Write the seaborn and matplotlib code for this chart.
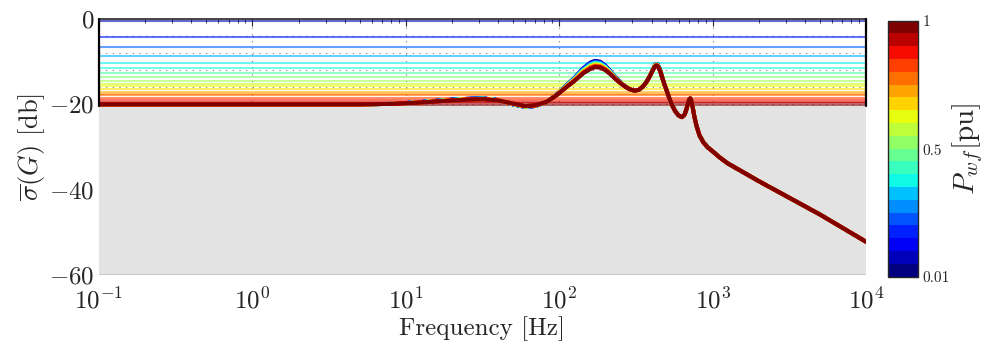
import numpy as np
import matplotlib
matplotlib.use("Agg")
import matplotlib.pyplot as plt
import seaborn as sns
import pandas as pd
from matplotlib.colors import ListedColormap, Normalize
from matplotlib.cm import ScalarMappable

# ---------------------------------------------------
# Daten
# ---------------------------------------------------
p_levels = [0.01, 0.06, 0.11, 0.17, 0.22, 0.27, 0.32, 0.37, 0.43, 0.48,
            0.53, 0.58, 0.64, 0.69, 0.74, 0.79, 0.84, 0.90, 0.95, 1.00]

# horizontale Linien oben (dB) und ihre Farbposition in "jet"
level_db = [-0.4, -4.1, -6.6, -8.6, -10.2, -11.4, -12.7, -13.5, -14.5, -15.2,
            -15.8, -16.4, -17.0, -17.5, -17.9, -18.6, -19.0, -19.4, -19.7, -20.1]
level_cpos = [0.05, 0.15, 0.22, 0.30, 0.36, 0.38, 0.44, 0.50, 0.55, 0.60,
              0.64, 0.67, 0.73, 0.76, 0.80, 0.84, 0.88, 0.92, 0.96, 1.00]

freq_hz = [0.1, 0.5, 1, 2, 5, 8, 12, 18, 25, 32, 40, 50, 60, 70, 83, 95,
           106, 124, 144, 160, 171, 185, 200, 215, 230, 250, 270, 290, 310,
           330, 350, 370, 390, 405, 420, 430, 440, 455, 470, 485, 500, 520,
           545, 570, 600, 630, 655, 675, 690, 705, 715, 725, 740, 760, 785,
           820, 870, 930, 1000, 1100, 1250, 2000, 3200, 5000, 10000]

# Kurve fuer P = 1 (rot)
sigma_red_db = [-20.0, -20.0, -20.0, -20.0, -20.0, -19.9, -19.6, -19.2, -18.9,
                -18.8, -19.1, -19.8, -20.4, -20.2, -19.4, -18.0, -16.6, -14.7,
                -12.7, -11.7, -11.3, -11.4, -12.0, -12.9, -13.9, -15.0, -15.9,
                -16.5, -16.8, -16.6, -15.9, -14.8, -13.4, -12.2, -11.2, -10.9,
                -11.1, -12.2, -13.8, -15.3, -16.6, -18.4, -20.2, -21.6, -22.6,
                -23.0, -22.5, -21.2, -19.8, -18.8, -18.6, -19.0, -20.5, -22.8,
                -25.0, -27.2, -28.9, -30.1, -31.0, -32.3, -33.8, -38.0, -42.0,
                -45.8, -52.2]

# Abweichung der Kurve fuer P = 0.01 (blau) gegenueber rot
sigma_blue_shift = [0, 0, 0, 0, 0, 0, 0.1, 0.2, 0.2, 0.2, 0.1, -0.2, -0.2,
                    -0.2, 0, 0.1, 0.3, 0.7, 1.2, 1.5, 1.5, 1.4, 1.1, 0.7, 0.4,
                    0.2, 0.1, 0, 0, 0, 0, 0, 0.1, 0.2, 0.4, 0.4, 0.4, 0.3, 0.1,
                    0, 0, 0, 0, 0, 0, 0, 0, 0, 0, 0, 0, 0, 0, 0, 0, 0, 0, 0, 0,
                    0, 0, 0, 0, 0, 0]

# Anteil der blauen Abweichung je Kurve (blau -> rot)
shift_share = [1.00, 0.95, 0.89, 0.84, 0.79, 0.74, 0.68, 0.63, 0.58, 0.53,
               0.47, 0.42, 0.37, 0.32, 0.26, 0.21, 0.16, 0.11, 0.05, 0.00]

yticks = [0, -20, -40, -60]
xticks = [0.1, 1, 10, 100, 1000, 10000]
xtick_labels = [r"$10^{-1}$", r"$10^{0}$", r"$10^{1}$", r"$10^{2}$",
                r"$10^{3}$", r"$10^{4}$"]

# ---------------------------------------------------
# Stil
# ---------------------------------------------------
sns.set_style("white")
plt.rcParams["font.family"] = "serif"
plt.rcParams["font.serif"] = ["cmr10", "DejaVu Serif"]
plt.rcParams["mathtext.fontset"] = "cm"
plt.rcParams["axes.unicode_minus"] = False

jet = plt.get_cmap("jet")
colors = [jet(i / 19) for i in range(20)]

fig = plt.figure(figsize=(9.87, 3.56), dpi=100)
ax = fig.add_axes([0.1003, 0.2275, 0.7771, 0.7191])
cax = fig.add_axes([0.8997, 0.2230, 0.0304, 0.7191])

ax.set_xscale("log")
ax.set_xlim(0.1, 10000)
ax.set_ylim(-60, 0)

# Gitter (gepunktet)
for f in [1, 10, 100, 1000]:
    ax.axvline(f, color="#777777", lw=0.8, ls=(0, (1, 5)), zorder=1)
for yv in [-4, -8, -12, -16, -20]:
    ax.axhline(yv, color="#777777", lw=0.8, ls=(0, (1, 5)), zorder=1)

# horizontale Stufenlinien
for yv, cp in zip(level_db, level_cpos):
    ax.axhline(yv, color=jet(cp), alpha=0.6, lw=1.5, zorder=2)

# grauer Bereich unterhalb -20 dB
ax.axhspan(-60, -20.3, color="#e3e3e3", zorder=3, lw=0)

# Kurven
rows = []
for k, (p, s) in enumerate(zip(p_levels, shift_share)):
    db = np.array(sigma_red_db) + s * np.array(sigma_blue_shift)
    rows.append(pd.DataFrame({"f": freq_hz, "db": db, "P": k}))
df = pd.concat(rows, ignore_index=True)
sns.lineplot(data=df, x="f", y="db", hue="P", palette=colors,
             hue_order=list(range(20)), legend=False, lw=2.8,
             ax=ax, zorder=5, sort=False, estimator=None)

# Rahmen
for side in ["left", "right", "bottom"]:
    ax.spines[side].set_visible(False)
ax.spines["top"].set_linewidth(1.2)
ax.plot([0.1, 0.1], [0, -20.3], color="black", lw=1.6, zorder=6, clip_on=False)
ax.plot([10000, 10000], [0, -20.3], color="black", lw=1.6, zorder=6, clip_on=False)
ax.axhline(-60, color="#555555", lw=1.0, zorder=6)

ax.set_xticks(xticks)
ax.set_xticklabels(xtick_labels, fontsize=18)
ax.set_yticks(yticks)
ax.set_yticklabels([r"$%d$" % v if v == 0 else r"$-%d$" % -v for v in yticks],
                   fontsize=18)
ax.tick_params(axis="both", which="both", direction="in", top=True,
               bottom=False, left=False, length=3)
ax.tick_params(axis="x", which="major", length=5, pad=9)
ax.tick_params(axis="y", pad=3)

ax.set_xlabel("Frequency [Hz]", fontsize=18, labelpad=2)
ax.set_ylabel(r"$\overline{\sigma}(G)$ [db]", fontsize=19, labelpad=2)

# Farbskala
sm = ScalarMappable(norm=Normalize(0.01, 1), cmap=ListedColormap(colors))
cb = fig.colorbar(sm, cax=cax)
cb.set_ticks([0.01, 0.5, 1])
cb.set_ticklabels(["0.01", "0.5", "1"])
cb.ax.tick_params(labelsize=11, direction="in", length=3)
cb.outline.set_linewidth(1.0)
cb.set_label(r"$P_{wf}$[pu]", fontsize=21, labelpad=0)

fig.savefig("out.png", dpi=100)
